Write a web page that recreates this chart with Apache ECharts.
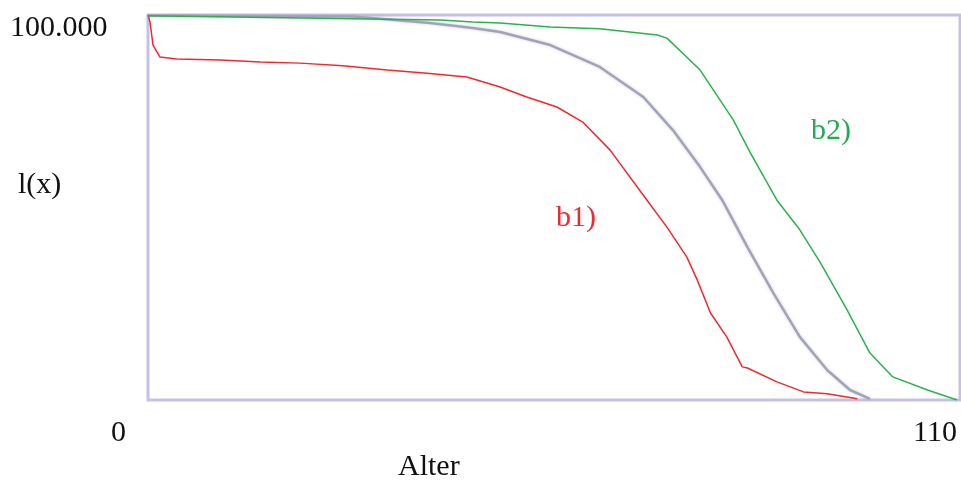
<!DOCTYPE html>
<html>
<head>
<meta charset="utf-8">
<script src="https://cdn.jsdelivr.net/npm/echarts@6/dist/echarts.min.js"></script>
<style>
  html, body { margin: 0; padding: 0; background: #fff; }
  #chart { width: 961px; height: 484px; }
</style>
</head>
<body>
<div id="chart"></div>
<script>
// Kurven: [Alter, l(x)]
var b1Data = [
    [0, 100000], [0.27, 98200], [0.68, 92200], [1.6, 89100], [3.9, 88600],
    [9.8, 88300], [15.2, 87800], [20.6, 87500], [26.4, 86800], [32.4, 85700],
    [37.8, 84900], [43.2, 83900], [47.7, 81300], [51.3, 78700], [55.4, 76100],
    [58.9, 72200], [62.6, 64900], [67.6, 51900], [70.3, 44900], [73.0, 37100],
    [74.4, 31200], [76.2, 22600], [78.4, 16400], [80.5, 8600], [81.2, 8300],
    [85.2, 4700], [88.8, 2100], [92.0, 1600], [96.1, 300]
];
var midData = [
    [0, 99900], [27.8, 99600], [38.2, 97900], [44.0, 96600], [47.7, 95600],
    [54.5, 92200], [61.2, 86500], [67.1, 78700], [71.1, 70100], [74.8, 60500],
    [77.8, 51900], [81.2, 39700], [84.7, 27800], [88.3, 16400], [92.0, 7800],
    [95.1, 2600], [97.8, 300]
];
var b2Data = [
    [0, 99800], [27.8, 99000], [39.6, 98700], [44.0, 98200], [47.7, 97900],
    [54.5, 96900], [61.2, 96400], [69.0, 94800], [70.3, 94000], [74.8, 85700],
    [79.3, 72700], [81.6, 64200], [85.2, 51900], [88.3, 44200], [91.1, 35600],
    [94.7, 23400], [97.8, 12200], [100.9, 6000], [105.6, 2600], [109.6, 0]
];
var xTickLabels = ['0', '110'];
var yTickLabel = '100.000';
var yName = 'l(x)';
var xName = 'Alter';
var seriesNames = ['b1)', '', 'b2)'];

var font = '"Liberation Serif", "Times New Roman", serif';

var chart = echarts.init(document.getElementById('chart'));
var option = {
    backgroundColor: '#fff',
    animation: false,
    grid: {
        left: 148, right: 1, top: 15, bottom: 84,
        show: true,
        borderColor: '#c6c0e8',
        borderWidth: 3,
        backgroundColor: 'transparent'
    },
    xAxis: {
        type: 'value', min: 0, max: 110,
        axisLine: { show: false }, axisTick: { show: false },
        axisLabel: { show: false }, splitLine: { show: false }
    },
    yAxis: {
        type: 'value', min: 0, max: 100000,
        axisLine: { show: false }, axisTick: { show: false },
        axisLabel: { show: false }, splitLine: { show: false }
    },
    series: [
        {
            name: seriesNames[0], type: 'line', data: b1Data, showSymbol: false,
            lineStyle: { color: '#ee2a2f', width: 1.5 }, z: 3
        },
        {
            name: 'mitte', type: 'line', data: midData, showSymbol: false,
            lineStyle: { color: '#a3a3b8', width: 2.5, shadowColor: 'rgba(160,160,200,0.5)', shadowBlur: 3 }, z: 2
        },
        {
            name: seriesNames[2], type: 'line', data: b2Data, showSymbol: false,
            lineStyle: { color: '#2bb24c', width: 1.5 }, z: 3
        }
    ],
    graphic: [
        { type: 'text', left: 10, top: 13, style: { text: yTickLabel, font: '30px ' + font, fill: '#111' } },
        { type: 'text', left: 18, top: 170, style: { text: yName, font: '30px ' + font, fill: '#111' } },
        { type: 'text', left: 111, top: 418, style: { text: xTickLabels[0], font: '30px ' + font, fill: '#111' } },
        { type: 'text', left: 913, top: 418, style: { text: xTickLabels[1], font: '30px ' + font, fill: '#111' } },
        { type: 'text', left: 398, top: 452, style: { text: xName, font: '30px ' + font, fill: '#111' } },
        { type: 'text', left: 556, top: 203, style: { text: seriesNames[0], font: '30px ' + font, fill: '#ee2a2f' } },
        { type: 'text', left: 811, top: 116, style: { text: seriesNames[2], font: '30px ' + font, fill: '#22aa55' } }
    ]
};
chart.setOption(option);
</script>
</body>
</html>
